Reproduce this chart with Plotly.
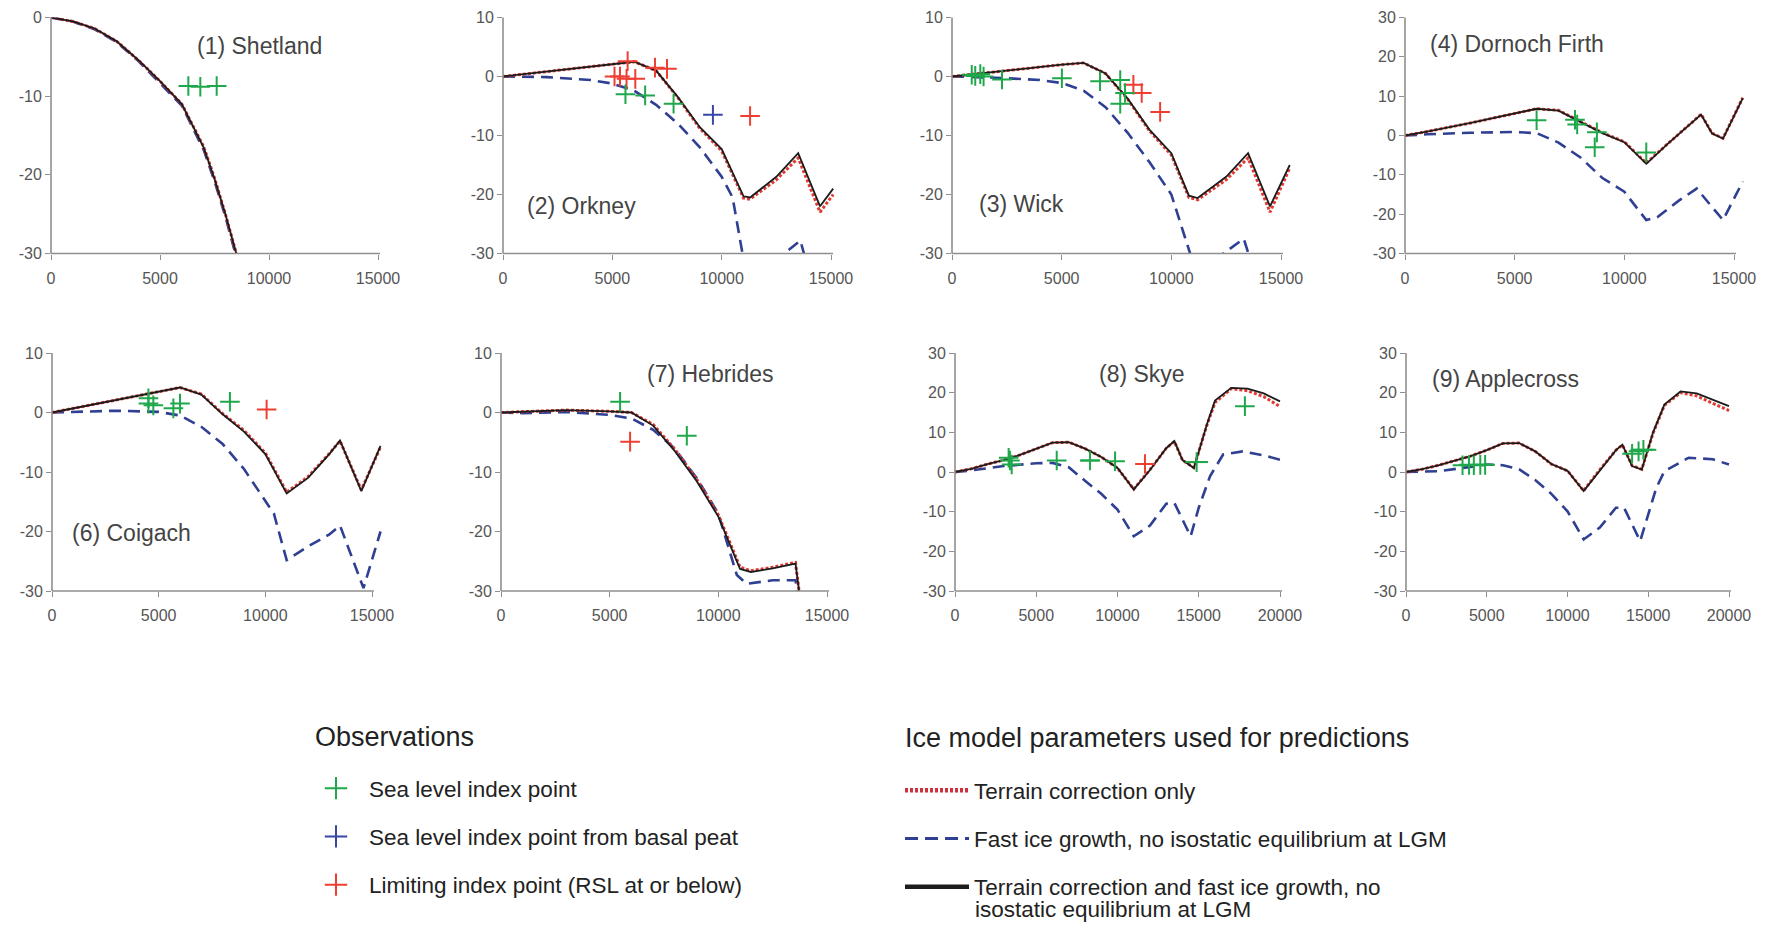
import plotly.graph_objects as go

W, H = 1768, 925

# ---------------- data ----------------
panel_titles = ["(1) Shetland", "(2) Orkney", "(3) Wick", "(4) Dornoch Firth",
                "(6) Coigach", "(7) Hebrides", "(8) Skye", "(9) Applecross"]

# (1) Shetland
sh_x = [0, 1000, 2000, 3000, 4000, 5000, 6000, 7000, 7500, 8000, 8600]
sh_comb = [0, -0.5, -1.4, -3.0, -5.4, -8.1, -11.0, -16.5, -20.5, -25.0, -31.0]
sh_terr = [0, -0.5, -1.4, -3.0, -5.4, -8.1, -11.0, -16.4, -20.4, -25.0, -31.0]
sh_fast = [0, -0.5, -1.5, -3.1, -5.5, -8.3, -11.2, -16.8, -20.8, -25.3, -31.5]
sh_obs_x = [6300, 6850, 7600]
sh_obs_y = [-8.7, -8.8, -8.7]

# (2) Orkney
ork_x = [0, 1000, 3000, 6000, 7000, 8000, 9000, 10000, 11000, 11300, 12500, 13500, 14500, 15100]
ork_comb = [0, 0.4, 1.3, 2.5, 1.0, -3.5, -8.6, -12.3, -20.3, -20.5, -17.0, -13.0, -22.0, -19.0]
ork_terr = [0, 0.4, 1.3, 2.5, 1.0, -3.6, -8.8, -12.6, -20.6, -20.8, -17.5, -13.8, -23.0, -20.0]
ork_fast_x = [0, 2000, 4000, 5000, 6000, 7000, 8000, 9000, 10000, 10500, 11000, 11300, 12700, 13600, 14500, 15100]
ork_fast = [0, -0.1, -0.6, -1.2, -2.4, -4.8, -8.0, -12.0, -17.0, -20.5, -31.0, -35.0, -30.5, -27.8, -40.0, -36.0]
ork_obs_x = [5600, 6500, 7800]
ork_obs_y = [-3.0, -3.2, -4.6]
ork_lim_x = [5700, 5100, 5350, 5650, 6050, 6950, 7500, 11300]
ork_lim_y = [2.6, 0.0, 0.0, -0.4, -0.4, 1.5, 1.3, -6.7]
ork_peat_x = [9600]
ork_peat_y = [-6.5]

# (3) Wick
wick_x = [0, 1000, 3000, 5000, 6000, 7000, 8000, 9000, 10000, 10800, 11200, 12500, 13500, 14500, 15400]
wick_comb = [0, 0.4, 1.3, 2.0, 2.3, 0.5, -3.7, -9.0, -13.0, -20.2, -20.6, -17.0, -13.0, -22.0, -15.0]
wick_terr = [0, 0.4, 1.3, 2.0, 2.3, 0.5, -3.8, -9.2, -13.3, -20.5, -20.9, -17.5, -13.8, -23.0, -15.5]
wick_fast_x = [0, 2000, 4000, 5000, 6000, 7000, 8000, 9000, 10000, 10900, 11300, 12000, 13300, 13600, 14500, 15400]
wick_fast = [0, -0.2, -0.6, -1.1, -2.4, -5.2, -9.5, -14.5, -20.0, -30.5, -34.0, -31.0, -27.5, -31.0, -38.0, -33.0]
wick_obs_x = [900, 1060, 1290, 1440, 2280, 5010, 6750, 7670, 7890, 7670]
wick_obs_y = [0.3, 0.1, 0.4, 0.0, -0.5, -0.3, -0.8, -0.6, -2.8, -4.6]
wick_lim_x = [8270, 8650, 9490]
wick_lim_y = [-1.4, -2.8, -6.0]

# (4) Dornoch Firth
dor_x = [0, 1000, 3000, 5000, 6000, 7000, 8000, 9000, 10000, 11000, 12000, 13000, 13500, 14000, 14500, 15400]
dor_comb = [0, 1.0, 3.2, 5.5, 6.8, 6.3, 3.4, 0.6, -1.7, -7.2, -2.0, 2.8, 5.3, 0.5, -0.8, 9.5]
dor_terr = [0, 1.0, 3.2, 5.5, 6.8, 6.4, 3.5, 0.7, -1.6, -7.0, -2.0, 2.9, 5.4, 0.6, -0.7, 9.6]
dor_fast_x = [0, 1000, 3000, 5000, 6000, 7000, 8000, 9000, 10000, 11000, 11500, 12500, 13300, 14500, 15400]
dor_fast = [0, 0.3, 0.7, 0.9, 0.6, -1.8, -5.6, -10.8, -14.3, -21.5, -20.8, -16.5, -13.5, -21.5, -11.7]
dor_obs_x = [6000, 7750, 7850, 8750, 8650, 11000]
dor_obs_y = [3.9, 4.0, 2.8, 0.8, -3.0, -4.3]

# (6) Coigach
coi_x = [0, 1000, 3000, 5000, 6000, 7000, 8000, 9000, 10000, 11000, 12000, 13000, 13500, 14500, 15400]
coi_comb = [0, 0.7, 2.0, 3.4, 4.2, 3.0, -0.3, -3.2, -7.0, -13.6, -11.0, -7.0, -4.7, -13.2, -5.6]
coi_terr = [0, 0.7, 2.0, 3.4, 4.2, 3.1, -0.2, -3.0, -6.8, -13.4, -10.8, -6.9, -4.8, -13.0, -5.8]
coi_fast_x = [0, 1000, 3000, 5000, 6000, 7000, 8000, 9000, 10000, 10400, 11000, 12000, 13000, 13500, 14600, 15400]
coi_fast = [0, 0.1, 0.3, 0.1, -0.5, -2.4, -5.3, -9.5, -14.8, -17.0, -24.8, -22.5, -20.5, -19.0, -29.5, -20.0]
coi_obs_x = [4520, 4520, 4750, 5690, 6000, 8340]
coi_obs_y = [2.4, 1.5, 1.2, 0.7, 1.5, 1.8]
coi_lim_x = [10060]
coi_lim_y = [0.5]

# (7) Hebrides
heb_x = [0, 1000, 3000, 5000, 6000, 7000, 8000, 9000, 10000, 11000, 11500, 12500, 13550, 13750, 13900]
heb_comb = [0, 0.1, 0.4, 0.2, 0.0, -2.2, -6.5, -11.5, -17.5, -26.3, -26.8, -26.2, -25.4, -31.0, -35.0]
heb_terr = [0, 0.1, 0.4, 0.2, 0.0, -2.0, -6.2, -11.2, -17.2, -26.0, -26.6, -26.0, -25.2, -31.0, -35.0]
heb_fast_x = [0, 1000, 3000, 5000, 6000, 7000, 8000, 9000, 10000, 10850, 11300, 12500, 13550, 13750, 13900]
heb_fast = [0, -0.1, 0.1, -0.4, -1.0, -2.9, -6.1, -11.0, -17.0, -27.3, -28.8, -28.2, -28.2, -32.0, -36.0]
heb_obs_x = [5480, 8550]
heb_obs_y = [1.8, -3.9]
heb_lim_x = [5940]
heb_lim_y = [-4.9]

# (8) Skye
sky_x = [0, 1000, 2000, 3000, 4000, 5000, 6000, 7000, 8000, 9000, 10000, 11000, 12000, 13000, 13500,
         14000, 14700, 15500, 16000, 17000, 18000, 19000, 20000]
sky_comb = [0, 0.8, 2.0, 3.0, 4.3, 5.8, 7.4, 7.5, 5.9, 3.8, 1.0, -4.4, 0.5, 6.0, 7.8,
            3.0, 1.0, 12.0, 18.0, 21.2, 21.0, 19.8, 17.8]
sky_terr = [0, 0.8, 2.0, 3.0, 4.3, 5.8, 7.4, 7.5, 5.9, 3.8, 1.0, -4.3, 0.6, 6.0, 7.7,
            3.0, 1.1, 11.8, 17.5, 21.0, 20.5, 19.0, 16.5]
sky_fast_x = [0, 1000, 3000, 5000, 6000, 7000, 8000, 9000, 10000, 11000, 12000, 13000, 13500, 14500,
              15000, 15700, 16500, 17700, 19000, 20000]
sky_fast = [0, 0.4, 1.5, 2.2, 2.3, 1.2, -2.2, -5.5, -9.5, -16.2, -13.5, -8.0, -7.8, -16.2,
            -9.0, -1.0, 4.4, 5.2, 4.2, 3.1]
sky_obs_x = [3380, 3490, 3300, 6260, 8310, 9850, 14870, 17840]
sky_obs_y = [2.9, 1.9, 3.6, 2.9, 2.9, 2.7, 2.5, 16.6]
sky_obs_err = [0, 0, 0, 0, 600, 0, 700, 0]
sky_lim_x = [11690]
sky_lim_y = [2.0]

# (9) Applecross
app_x = [0, 1000, 2000, 3000, 4000, 5000, 6000, 7000, 8000, 9000, 10000, 11000, 12000, 13000, 13400,
         14000, 14600, 15300, 16000, 17000, 18000, 19000, 20000]
app_comb = [0, 0.7, 1.7, 2.8, 4.0, 5.5, 7.2, 7.3, 5.2, 2.0, 0.3, -4.8, 0.5, 5.5, 6.9,
            1.5, 0.6, 10.0, 17.0, 20.3, 19.8, 18.3, 16.6]
app_terr = [0, 0.7, 1.7, 2.8, 4.0, 5.5, 7.2, 7.3, 5.2, 2.0, 0.3, -4.7, 0.6, 5.5, 6.8,
            1.6, 0.7, 9.8, 16.8, 20.0, 19.2, 17.3, 15.5]
app_fast_x = [0, 1000, 2000, 4000, 5000, 6000, 7000, 8000, 9000, 10000, 11000, 12000, 13000, 13500,
              14500, 15500, 16000, 17500, 19000, 20000]
app_fast = [0, 0.1, 0.2, 1.3, 1.9, 1.7, 0.7, -2.0, -5.5, -9.9, -17.0, -14.0, -9.0, -9.0,
            -17.4, -4.0, 0.2, 3.6, 3.2, 1.9]
app_obs_x = [3500, 3900, 4200, 4600, 4900, 14000, 14400, 14700]
app_obs_y = [1.7, 1.8, 1.7, 1.8, 1.8, 4.6, 5.2, 5.6]
app_obs_err = [0, 0, 0, 0, 0, 0, 0, 800]

# axis ticks
x_ticks_15 = [0, 5000, 10000, 15000]
x_ticks_20 = [0, 5000, 10000, 15000, 20000]
y_ticks_0 = [0, -10, -20, -30]
y_ticks_10 = [10, 0, -10, -20, -30]
y_ticks_30 = [30, 20, 10, 0, -10, -20, -30]

legend_headings = ["Observations", "Ice model parameters used for predictions"]
legend_obs_names = ["Sea level index point", "Sea level index point from basal peat",
                    "Limiting index point (RSL at or below)"]
legend_model_names = ["Terrain correction only",
                      "Fast ice growth, no isostatic equilibrium at LGM",
                      "Terrain correction and fast ice growth, no"]
legend_model_name_cont = "isostatic equilibrium at LGM"

# ---------------- styling ----------------
RED_LINE = "#e03a33"
BLUE_LINE = "#2f3f92"
BLACK_LINE = "#1c1c1c"
GREEN_MK = "#1fa84b"
RED_MK = "#ee3e32"
BLUE_MK = "#3845a8"
AXIS_COL = "#8f8f8f"
TICK_FONT = dict(size=16, color="#555555")
FONT = "Liberation Sans, Arial, sans-serif"

panels = [
    dict(x=sh_x, comb=sh_comb, terr=sh_terr, fx=sh_x, fast=sh_fast, ox=sh_obs_x, oy=sh_obs_y),
    dict(x=ork_x, comb=ork_comb, terr=ork_terr, fx=ork_fast_x, fast=ork_fast, ox=ork_obs_x, oy=ork_obs_y,
         lx=ork_lim_x, ly=ork_lim_y, px=ork_peat_x, py=ork_peat_y),
    dict(x=wick_x, comb=wick_comb, terr=wick_terr, fx=wick_fast_x, fast=wick_fast, ox=wick_obs_x, oy=wick_obs_y,
         lx=wick_lim_x, ly=wick_lim_y),
    dict(x=dor_x, comb=dor_comb, terr=dor_terr, fx=dor_fast_x, fast=dor_fast, ox=dor_obs_x, oy=dor_obs_y),
    dict(x=coi_x, comb=coi_comb, terr=coi_terr, fx=coi_fast_x, fast=coi_fast, ox=coi_obs_x, oy=coi_obs_y,
         lx=coi_lim_x, ly=coi_lim_y),
    dict(x=heb_x, comb=heb_comb, terr=heb_terr, fx=heb_fast_x, fast=heb_fast, ox=heb_obs_x, oy=heb_obs_y,
         lx=heb_lim_x, ly=heb_lim_y),
    dict(x=sky_x, comb=sky_comb, terr=sky_terr, fx=sky_fast_x, fast=sky_fast, ox=sky_obs_x, oy=sky_obs_y,
         oerr=sky_obs_err, lx=sky_lim_x, ly=sky_lim_y),
    dict(x=app_x, comb=app_comb, terr=app_terr, fx=app_fast_x, fast=app_fast, ox=app_obs_x, oy=app_obs_y,
         oerr=app_obs_err),
]

# layout geometry (pixels): left axis x, right tick x, top y, bottom y
geom = [
    (51, 378, 17.5, 253.5), (503, 831, 17.5, 253.5), (952, 1281, 17.5, 253.5), (1405, 1734, 17.5, 253.5),
    (52, 372, 353, 591), (501, 827, 353, 591), (955, 1280, 353, 591), (1406, 1729, 353, 591),
]
xtick_sets = [x_ticks_15] * 6 + [x_ticks_20] * 2
ytick_sets = [y_ticks_0, y_ticks_10, y_ticks_10, y_ticks_30, y_ticks_10, y_ticks_10, y_ticks_30, y_ticks_30]
xrange_max = [15000, 15600, 15600, 15600, 15600, 15600, 20250, 20250]
title_pos = [(195, 46), (525, 206), (977, 204), (1428, 44), (70, 533), (645, 374), (1097, 374), (1430, 379)]

fig = go.Figure()
layout = {}
shapes = []
annotations = []

for i, p in enumerate(panels):
    n = "" if i == 0 else str(i + 1)
    xa, ya = "x" + n, "y" + n
    x0px, xtpx, ytop, ybot = geom[i]
    tmax = xtick_sets[i][-1]
    xr = xrange_max[i]
    dom_l = x0px / W
    dom_r = (x0px + (xtpx - x0px) * xr / tmax) / W
    dom_b = 1 - ybot / H
    dom_t = 1 - ytop / H
    yt = ytick_sets[i]
    layout["xaxis" + n] = dict(
        domain=[dom_l, dom_r], anchor=ya, range=[0, xr], tickvals=xtick_sets[i],
        ticktext=[str(v) for v in xtick_sets[i]], showgrid=False, zeroline=False, showline=False,
        ticks="outside", ticklen=5, tickwidth=1.3, tickcolor=AXIS_COL, tickfont=TICK_FONT,
        ticklabelstandoff=5, fixedrange=True)
    layout["yaxis" + n] = dict(
        domain=[dom_b, dom_t], anchor=xa, range=[-30, max(yt)], tickvals=yt,
        ticktext=[str(v) for v in yt], showgrid=False, zeroline=False, showline=False,
        ticks="outside", ticklen=5, tickwidth=1.3, tickcolor=AXIS_COL, tickfont=TICK_FONT,
        fixedrange=True)
    # axis lines (x axis ends at last tick, as in the original)
    shapes.append(dict(type="line", xref="paper", yref="paper", x0=dom_l, x1=(xtpx + 2) / W,
                       y0=dom_b, y1=dom_b, line=dict(color=AXIS_COL, width=1.6)))
    shapes.append(dict(type="line", xref="paper", yref="paper", x0=dom_l, x1=dom_l,
                       y0=dom_b, y1=dom_t, line=dict(color=AXIS_COL, width=1.6)))
    tx, ty = title_pos[i]
    annotations.append(dict(text=panel_titles[i], x=tx / W, y=1 - ty / H, xref="paper", yref="paper",
                            xanchor="left", yanchor="middle", showarrow=False,
                            font=dict(size=23, color="#444444", family=FONT)))

    # model curves
    fig.add_trace(go.Scatter(x=p["fx"], y=p["fast"], mode="lines", xaxis=xa, yaxis=ya, showlegend=False,
                             line=dict(color=BLUE_LINE, width=2.6, dash="12px,7px"), hoverinfo="skip"))
    fig.add_trace(go.Scatter(x=p["x"], y=p["terr"], mode="lines", xaxis=xa, yaxis=ya, showlegend=False,
                             line=dict(color=RED_LINE, width=3, dash="3px,2px"), hoverinfo="skip"))
    fig.add_trace(go.Scatter(x=p["x"], y=p["comb"], mode="lines", xaxis=xa, yaxis=ya, showlegend=False,
                             line=dict(color=BLACK_LINE, width=1.8), hoverinfo="skip"))
    # observations
    mk = lambda c: dict(symbol="cross-thin", size=14, line=dict(color=c, width=2))
    if "lx" in p:
        fig.add_trace(go.Scatter(x=p["lx"], y=p["ly"], mode="markers", xaxis=xa, yaxis=ya,
                                 showlegend=False, marker=mk(RED_MK)))
    if "px" in p:
        fig.add_trace(go.Scatter(x=p["px"], y=p["py"], mode="markers", xaxis=xa, yaxis=ya,
                                 showlegend=False, marker=mk(BLUE_MK)))
    kw = {}
    if "oerr" in p:
        kw["error_x"] = dict(type="data", array=p["oerr"], width=0, thickness=2, color=GREEN_MK)
    fig.add_trace(go.Scatter(x=p["ox"], y=p["oy"], mode="markers", xaxis=xa, yaxis=ya,
                             showlegend=False, marker=mk(GREEN_MK), **kw))

# legend headings
for txt, (hx, hy) in zip(legend_headings, [(313, 737), (903, 738)]):
    annotations.append(dict(text=txt, x=hx / W, y=1 - hy / H, xref="paper", yref="paper",
                            xanchor="left", yanchor="middle", showarrow=False,
                            font=dict(size=27, color="#222222", family=FONT)))
# continuation line of the last legend entry (tighter line spacing than the legend allows)
annotations.append(dict(text=legend_model_name_cont, x=973 / W, y=1 - 909 / H, xref="paper", yref="paper",
                        xanchor="left", yanchor="middle", showarrow=False,
                        font=dict(size=22.5, color="#222222", family=FONT)))

# legend entries
for name, col in zip(legend_obs_names, [GREEN_MK, BLUE_MK, RED_MK]):
    fig.add_trace(go.Scatter(x=[None], y=[None], mode="markers", name=name, legend="legend",
                             legendgroup=name,
                             marker=dict(symbol="cross-thin", size=16, line=dict(color=col, width=2))))
for name, col, dash, wd in zip(legend_model_names, ["#d0303c", BLUE_LINE, BLACK_LINE],
                               ["3px,2px", "13px,7px", "solid"], [4.5, 3, 4.5]):
    fig.add_trace(go.Scatter(x=[None], y=[None], mode="lines", name=name, legend="legend2",
                             legendgroup=name, line=dict(color=col, width=wd, dash=dash)))

fig.update_layout(
    width=W, height=H, margin=dict(l=0, r=0, t=0, b=0, autoexpand=False),
    paper_bgcolor="white", plot_bgcolor="white",
    font=dict(family=FONT, color="#222222"),
    shapes=shapes, annotations=annotations,
    legend=dict(x=303 / W, y=1 - 767 / H, xanchor="left", yanchor="top",
                font=dict(size=22.5, color="#222222"), itemwidth=56, tracegroupgap=16,
                traceorder="grouped", bgcolor="rgba(0,0,0,0)"),
    legend2=dict(x=900 / W, y=1 - 769 / H, xanchor="left", yanchor="top",
                 font=dict(size=22.5, color="#222222"), itemwidth=64, tracegroupgap=16,
                 traceorder="grouped", valign="top", bgcolor="rgba(0,0,0,0)"),
    **layout,
)

fig.write_html("out.html", config={"displayModeBar": False},
               post_script="document.body.style.margin='0';")
